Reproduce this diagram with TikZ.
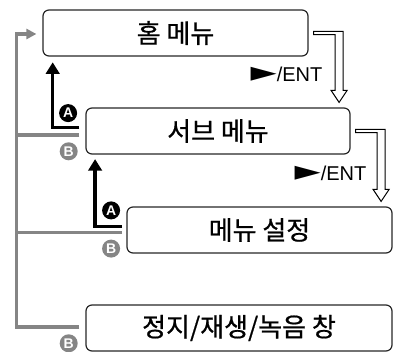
\documentclass[tikz,border=0pt]{standalone}
\usepackage{fontspec}
\setmainfont{Liberation Sans}
\newfontfamily\krfont[FakeBold=0.7]{Noto Sans CJK KR}
\newfontfamily\dvfont{DejaVu Sans}
\usetikzlibrary{calc,arrows.meta}
\definecolor{lg}{HTML}{858585}
\begin{document}
\begin{tikzpicture}[x=1pt,y=-1pt,
  menubox/.style={draw=black!85, line width=1.2pt, rounded corners=6pt,
    minimum height=46pt, inner sep=0pt, font=\krfont\fontsize{26}{26}\selectfont},
  grayline/.style={draw=lg, line width=3.3pt},
  blackline/.style={draw=black, line width=3.3pt, -{Triangle[length=11.6pt,width=13.5pt]}},
  hollow/.style={draw=black, line width=1pt, fill=white, line join=miter},
  entlabel/.style={inner sep=0pt, font=\fontsize{20}{20}\selectfont},
  circA/.style={circle, fill=black, text=white, minimum size=18pt, inner sep=0pt,
    font=\bfseries\fontsize{14}{14}\selectfont},
  circB/.style={circle, fill=lg, text=white, minimum size=18pt, inner sep=0pt,
    font=\bfseries\fontsize{14}{14}\selectfont}]
\useasboundingbox (0,0) rectangle (415,352);

% boxes
\node[menubox, minimum width=265pt] (b1) at (175.5,33) {홈 메뉴};
\node[menubox, minimum width=264pt] (b2) at (218,131) {서브 메뉴};
\node[menubox, minimum width=265pt] (b3) at (259.5,230) {메뉴 설정};
\node[menubox, minimum width=306pt] (b4) at (239,328) {정지/재생/녹음 창};

% hollow double arrows
\draw[hollow] let \p1=(b1.east), \p2=(b2.north) in
  (\x1+5pt,\y1+1.7pt) -- (\x1+34.5pt,\y1+1.7pt) -- (\x1+34.5pt,\y2+17pt)
  -- (\x1+38.5pt,\y2+17pt) -- (\x1+30.5pt,\y2+5pt) -- (\x1+22.5pt,\y2+17pt)
  -- (\x1+26.5pt,\y2+17pt) -- (\x1+26.5pt,\y1-1.7pt) -- (\x1+5pt,\y1-1.7pt) -- cycle;
\draw[hollow] let \p1=(b2.east), \p2=(b3.north) in
  (\x1+5pt,\y1+1.7pt) -- (\x1+34.5pt,\y1+1.7pt) -- (\x1+34.5pt,\y2+17pt)
  -- (\x1+38.5pt,\y2+17pt) -- (\x1+30.5pt,\y2+5pt) -- (\x1+22.5pt,\y2+17pt)
  -- (\x1+26.5pt,\y2+17pt) -- (\x1+26.5pt,\y1-1.7pt) -- (\x1+5pt,\y1-1.7pt) -- cycle;

% labels
\node[entlabel, anchor=east] (l1) at ($(b1.south east)+(14,17.5)$)
  {\scalebox{1.7}[1.4]{\dvfont ►}/ENT};
\node[entlabel, anchor=east] (l2) at ($(b2.south east)+(16,19)$)
  {\scalebox{1.7}[1.4]{\dvfont ►}/ENT};

% gray return lines
\coordinate (spineTop) at (16.7,34);
\coordinate (g2) at ($(b2.west)+(-6,4)$);
\coordinate (g3) at ($(b3.west)+(-4.3,2.5)$);
\coordinate (g4) at ($(b4.west)+(-6,-1)$);
\draw[grayline, -{Triangle[length=10pt,width=10pt]}, shorten >=6pt]
  (g4) -| (spineTop) -- (b1.west |- spineTop);
\draw[grayline] (g2) -- (g2 -| spineTop);
\draw[grayline] (g3) -- (g3 -| spineTop);

% black back arrows
\coordinate (a2) at ($(b2.west)+(-6,-3.7)$);
\coordinate (a3) at ($(b3.west)+(-4.3,-3.3)$);
\draw[blackline] (a2) -| ($(b1.south west)+(10.3,5.7)$);
\draw[blackline] (a3) -| ($(b2.south west)+(9.7,4.5)$);

% circles
\node[circA] (A2) at ($(b2.north west)+(-17.3,5.7)$) {A};
\node[circA] (A3) at ($(b3.north west)+(-15.3,4)$) {A};
\node[circB] (B2) at ($(b2.south west)+(-16.7,-3.3)$) {B};
\node[circB] (B3) at ($(b3.south west)+(-15.3,-5)$) {B};
\node[circB] (B4) at ($(b4.south west)+(-16.7,-8.3)$) {B};
\end{tikzpicture}
\end{document}
